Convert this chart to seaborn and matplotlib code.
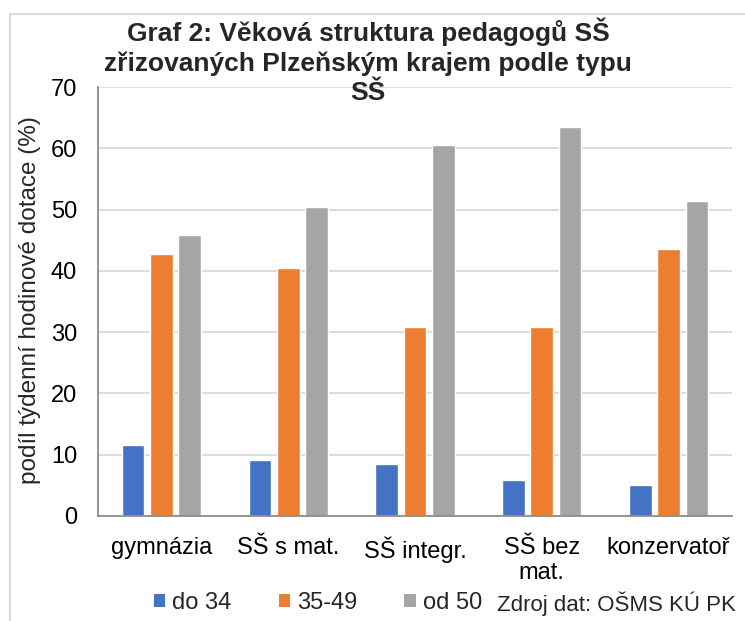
import pandas as pd
import matplotlib
matplotlib.use("Agg")
import matplotlib.pyplot as plt
from matplotlib.patches import Rectangle, Patch
import seaborn as sns

# Data
categories = ["gymnázia", "SŠ s mat.", "SŠ integr.", "SŠ bez\nmat.", "konzervatoř"]
groups = ["do 34", "35-49", "od 50"]
do_34 = [11.6, 9.2, 8.5, 5.9, 5.0]
od_35_49 = [42.7, 40.4, 30.9, 30.9, 43.6]
od_50 = [45.8, 50.5, 60.6, 63.4, 51.4]
colors = ["#4472C4", "#ED7D31", "#A5A5A5"]

df = pd.DataFrame({
    "typ": categories * 3,
    "skupina": [g for g in groups for _ in categories],
    "podil": do_34 + od_35_49 + od_50,
})

sns.set_theme(style="white")
plt.rcParams["font.family"] = ["Liberation Sans", "DejaVu Sans"]

fig = plt.figure(figsize=(7.45, 6.21), dpi=100)
ax = fig.add_axes([98 / 745, 1 - 516 / 621, (732 - 98) / 745, (516 - 87) / 621])

sns.barplot(data=df, x="typ", y="podil", hue="skupina", order=categories,
            hue_order=groups, palette=colors, width=0.67, gap=0.2,
            saturation=1, legend=False, ax=ax)

ax.set_ylim(0, 70)
ax.set_yticks(range(0, 71, 10))
ax.yaxis.grid(True, color="#d9d9d9", linewidth=1.3)
ax.set_axisbelow(True)
ax.set_xlabel("")
ax.set_ylabel("")
ax.tick_params(axis="y", labelsize=17, pad=15, length=0, colors="black")
ax.tick_params(axis="x", labelsize=17, pad=15, length=0, colors="black")
for s in ["top", "right"]:
    ax.spines[s].set_visible(False)
for s in ["left", "bottom"]:
    ax.spines[s].set_color("#8c8c8c")
    ax.spines[s].set_linewidth(1.3)

fig.text(368 / 745, 1 - 18 / 621,
         "Graf 2: Věková struktura pedagogů SŠ\nzřizovaných Plzeňským krajem podle typu\nSŠ",
         ha="center", va="top", fontsize=19, fontweight="bold", linespacing=1.27)

fig.text(30 / 745, 1 - 300 / 621, "podíl týdenní hodinové dotace (%)",
         rotation=90, ha="center", va="center", fontsize=17.5)

handles = [Patch(facecolor=c, edgecolor="none") for c in colors]
fig.legend(handles, groups, loc="center", bbox_to_anchor=(318 / 745, 1 - 603 / 621),
           ncol=3, frameon=False, fontsize=17, handlelength=0.47, handleheight=0.47,
           handletextpad=0.3, columnspacing=2.0)

fig.text(736 / 745, 1 - 604 / 621, "Zdroj dat: OŠMS KÚ PK",
         ha="right", va="center", fontsize=16)

# light chart border like the Excel chart area
fig.add_artist(Rectangle((10 / 745, -0.1), 1.0, 1.1 - 14 / 621,
                         transform=fig.transFigure, fill=False,
                         edgecolor="#d9d9d9", linewidth=1.5))

fig.savefig("out.png", dpi=100)
